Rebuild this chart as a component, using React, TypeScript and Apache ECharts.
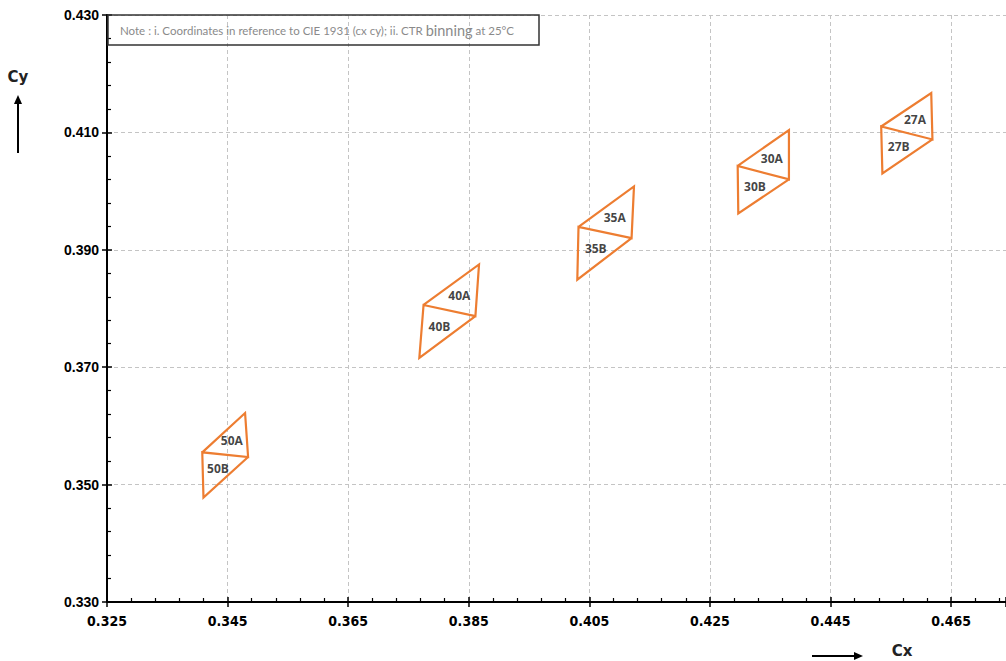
import React, { useEffect, useRef } from "react";
import * as echarts from "echarts";

const bins = ["50", "40", "35", "30", "27"];
const topRightX = [0.3479, 0.3867, 0.4124, 0.4381, 0.4617];
const topRightY = [0.3622, 0.3875, 0.4008, 0.4104, 0.4167];
const leftMidX = [0.3408, 0.3775, 0.4032, 0.4296, 0.4534];
const leftMidY = [0.3555, 0.3806, 0.3939, 0.4043, 0.411];
const rightMidX = [0.3484, 0.3861, 0.412, 0.4381, 0.4619];
const rightMidY = [0.3547, 0.3787, 0.392, 0.402, 0.4088];
const bottomLeftX = [0.341, 0.3768, 0.403, 0.4297, 0.4536];
const bottomLeftY = [0.3478, 0.3716, 0.3849, 0.3962, 0.403];

const xMin = 0.325;
const xMax = 0.4741;
const yMin = 0.33;
const yMax = 0.43;
const tickStep = 0.02;

const noteText = "Note : i. Coordinates in reference to CIE 1931 (cx cy); ii. CTR ";
const noteBig = "binning";
const noteTail = " at 25°C";

const ORANGE = "#ED7D31";

export default function App() {
  const ref = useRef<HTMLDivElement>(null);

  useEffect(() => {
    if (!ref.current) return;
    const chart = echarts.init(ref.current, undefined, { renderer: "svg" });

    const lineSeries = bins.map((b, i) => {
      const LM = [leftMidX[i], leftMidY[i]];
      const TR = [topRightX[i], topRightY[i]];
      const RM = [rightMidX[i], rightMidY[i]];
      const BL = [bottomLeftX[i], bottomLeftY[i]];
      return {
        type: "line",
        name: b,
        data: [LM, TR, RM, LM, BL, RM],
        symbol: "none",
        lineStyle: { color: ORANGE, width: 2.2, join: "miter" },
        silent: true,
        z: 3,
      };
    });

    const labelData: any[] = [];
    bins.forEach((b, i) => {
      const ax = (leftMidX[i] + topRightX[i] + rightMidX[i]) / 3;
      const ay = (leftMidY[i] + topRightY[i] + rightMidY[i]) / 3;
      const bx = (leftMidX[i] + rightMidX[i] + bottomLeftX[i]) / 3;
      const by = (leftMidY[i] + rightMidY[i] + bottomLeftY[i]) / 3;
      labelData.push({ name: b + "A", value: [ax, ay] });
      labelData.push({ name: b + "B", value: [bx, by] });
    });

    const fmt = (v: number) => v.toFixed(3);

    const option: any = {
      animation: false,
      backgroundColor: "#ffffff",
      grid: { left: 107, right: 0, top: 15, bottom: 59 },
      xAxis: [
        {
          type: "value",
          min: xMin,
          max: xMax,
          interval: tickStep,
          position: "bottom",
          axisLine: { show: true, lineStyle: { color: "#000", width: 2 } },
          axisTick: { show: true, inside: true, length: 5, lineStyle: { color: "#000", width: 1.5 } },
          minorTick: { show: true, splitNumber: 5, length: 4, lineStyle: { color: "#000", width: 1.2 } },
          axisLabel: {
            show: true,
            formatter: fmt,
            showMaxLabel: false,
            margin: 12,
            color: "#000",
            fontSize: 14,
            fontWeight: "bold",
            fontFamily: "'Liberation Sans Narrow', 'DejaVu Sans Condensed', sans-serif",
          },
          splitLine: { show: true, showMaxLine: false, lineStyle: { color: "#c4c4c4", type: [4, 3], width: 1 } },
        },
        {
          type: "value",
          min: xMin,
          max: xMax,
          interval: tickStep,
          position: "bottom",
          axisLine: { show: false },
          axisTick: { show: true, inside: false, length: 5, lineStyle: { color: "#000", width: 1.5 } },
          axisLabel: { show: false },
          splitLine: { show: false },
        },
      ],
      yAxis: [
        {
          type: "value",
          min: yMin,
          max: yMax,
          interval: tickStep,
          position: "left",
          axisLine: { show: true, lineStyle: { color: "#000", width: 2 } },
          axisTick: { show: true, inside: true, length: 5, lineStyle: { color: "#000", width: 1.5 } },
          minorTick: { show: true, splitNumber: 5, length: 4, lineStyle: { color: "#000", width: 1.2 } },
          axisLabel: {
            show: true,
            formatter: fmt,
            margin: 8,
            color: "#000",
            fontSize: 14,
            fontWeight: "bold",
            fontFamily: "'Liberation Sans', Arial, sans-serif",
          },
          splitLine: { show: true, lineStyle: { color: "#c4c4c4", type: [4, 3], width: 1 } },
        },
        {
          type: "value",
          min: yMin,
          max: yMax,
          interval: tickStep,
          position: "left",
          axisLine: { show: false },
          axisTick: { show: true, inside: false, length: 5, lineStyle: { color: "#000", width: 1.5 } },
          axisLabel: { show: false },
          splitLine: { show: false },
        },
      ],
      series: [
        ...lineSeries,
        {
          type: "scatter",
          data: labelData,
          symbolSize: 1,
          itemStyle: { color: "rgba(0,0,0,0)" },
          silent: true,
          z: 4,
          label: {
            show: true,
            position: "inside",
            formatter: "{b}",
            color: "#111",
            fontSize: 12,
            fontWeight: "bold",
            fontFamily: "'Open Sans', sans-serif",
          },
        },
      ],
      graphic: [
        {
          type: "rect",
          z: 10,
          shape: { x: 108, y: 15, width: 431, height: 30 },
          style: { fill: "none", stroke: "#333", lineWidth: 1.5 },
        },
        {
          type: "text",
          z: 11,
          x: 120,
          y: 30,
          style: {
            text: "{a|" + noteText + "}{b|" + noteBig + "}{a|" + noteTail + "}",
            verticalAlign: "middle",
            rich: {
              a: { fontSize: 11.5, fill: "#8a8a8a", fontFamily: "Lato, sans-serif" },
              b: { fontSize: 14.5, fill: "#8a8a8a", fontFamily: "Lato, sans-serif" },
            },
          },
        },
        {
          type: "text",
          z: 11,
          x: 18,
          y: 77,
          style: {
            text: "Cy",
            fill: "#222",
            fontSize: 15,
            fontWeight: "bold",
            fontFamily: "'DejaVu Sans', sans-serif",
            align: "center",
            verticalAlign: "middle",
          },
        },
        {
          type: "line",
          z: 11,
          shape: { x1: 18, y1: 153, x2: 18, y2: 102 },
          style: { stroke: "#000", lineWidth: 2 },
        },
        {
          type: "polygon",
          z: 11,
          shape: { points: [[18, 95], [14, 104], [22, 104]] },
          style: { fill: "#000" },
        },
        {
          type: "line",
          z: 11,
          shape: { x1: 812, y1: 656, x2: 856, y2: 656 },
          style: { stroke: "#000", lineWidth: 2 },
        },
        {
          type: "polygon",
          z: 11,
          shape: { points: [[863, 656], [854, 652], [854, 660]] },
          style: { fill: "#000" },
        },
        {
          type: "text",
          z: 11,
          x: 902,
          y: 651,
          style: {
            text: "Cx",
            fill: "#222",
            fontSize: 15,
            fontWeight: "bold",
            fontFamily: "'DejaVu Sans', sans-serif",
            align: "center",
            verticalAlign: "middle",
          },
        },
      ],
    };

    chart.setOption(option);
    return () => chart.dispose();
  }, []);

  return (
    <div
      ref={ref}
      style={{ position: "absolute", left: 0, top: 0, width: 1006, height: 661, background: "#fff" }}
    />
  );
}
